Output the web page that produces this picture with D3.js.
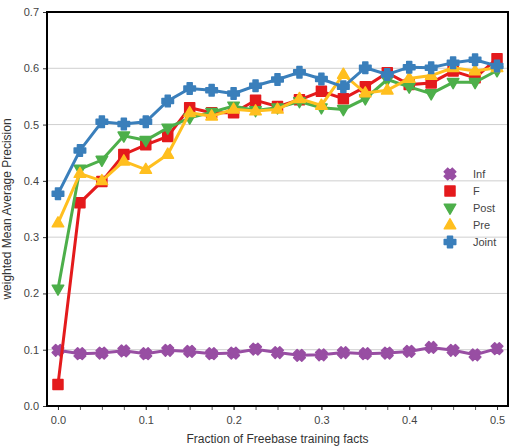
<!DOCTYPE html>
<html>
<head>
<meta charset="utf-8">
<script src="https://cdn.jsdelivr.net/npm/d3@7"></script>
<style>
  body { margin: 0; background: #fff; }
  text { font-family: "Liberation Sans", Arial, sans-serif; }
</style>
</head>
<body>
<div id="chart"></div>
<script>
// fractions of Freebase facts used for training
var fractions = [0, 0.025, 0.05, 0.075, 0.1, 0.125, 0.15, 0.175, 0.2, 0.225, 0.25,
                 0.275, 0.3, 0.325, 0.35, 0.375, 0.4, 0.425, 0.45, 0.475, 0.5];

var infValues = [0.099, 0.093, 0.094, 0.098, 0.093, 0.099, 0.097, 0.093, 0.094, 0.101, 0.095,
                 0.090, 0.091, 0.095, 0.093, 0.094, 0.097, 0.104, 0.099, 0.091, 0.102];
var fValues = [0.038, 0.361, 0.399, 0.447, 0.464, 0.479, 0.530, 0.521, 0.521, 0.543, 0.532,
               0.544, 0.559, 0.546, 0.567, 0.592, 0.571, 0.574, 0.595, 0.583, 0.617];
var postValues = [0.208, 0.421, 0.437, 0.480, 0.472, 0.494, 0.512, 0.522, 0.533, 0.525, 0.530,
                  0.541, 0.530, 0.527, 0.546, 0.580, 0.567, 0.555, 0.575, 0.575, 0.596];
var preValues = [0.325, 0.413, 0.400, 0.435, 0.420, 0.447, 0.521, 0.515, 0.527, 0.524, 0.527,
                 0.546, 0.534, 0.589, 0.556, 0.561, 0.582, 0.587, 0.601, 0.595, 0.601];
var jointValues = [0.377, 0.454, 0.505, 0.501, 0.505, 0.542, 0.564, 0.561, 0.555, 0.569, 0.580,
                   0.593, 0.581, 0.567, 0.601, 0.589, 0.602, 0.601, 0.610, 0.615, 0.604];

var seriesNames = ["Inf", "F", "Post", "Pre", "Joint"];
var seriesValues = [infValues, fValues, postValues, preValues, jointValues];
var seriesColors = ["#984ea3", "#e41a1c", "#4daf4a", "#ffbf1f", "#3a7fbb"];
var seriesMarkers = ["x", "square", "tridown", "triup", "plus"];

var xTicks = [0, 0.1, 0.2, 0.3, 0.4, 0.5];
var yTicks = [0, 0.1, 0.2, 0.3, 0.4, 0.5, 0.6, 0.7];

var margin = {top: 12, right: 5, bottom: 42, left: 47},
    width = 513 - margin.left - margin.right,
    height = 448 - margin.top - margin.bottom;

var svg = d3.select("#chart").append("svg")
    .attr("width", 513)
    .attr("height", 448)
    .append("g")
    .attr("transform", "translate(" + margin.left + "," + margin.top + ")");

var x = d3.scaleLinear().domain([-0.0125, 0.5125]).range([0, width]);
var y = d3.scaleLinear().domain([0, 0.7]).range([height, 0]);

// horizontal grid lines
svg.append("g")
    .selectAll("line")
    .data(yTicks.slice(1, -1))
    .enter().append("line")
    .attr("x1", 0).attr("x2", width)
    .attr("y1", function(d) { return y(d); })
    .attr("y2", function(d) { return y(d); })
    .style("stroke", "#cfcfcf")
    .style("stroke-width", 1);

// y axis
var yAxis = svg.append("g")
    .call(d3.axisLeft(y).tickValues(yTicks).tickFormat(d3.format(".1f")).tickSize(4).tickPadding(4));
yAxis.select(".domain").remove();
yAxis.selectAll("line").style("stroke", "#333");
yAxis.selectAll("text").style("font-size", "11px").style("fill", "#444")
    .style("font-family", "'Liberation Sans', Arial, sans-serif");

// x axis, minor ticks every 0.025
var xMinor = svg.append("g")
    .attr("transform", "translate(0," + height + ")")
    .call(d3.axisBottom(x).tickValues(fractions).tickFormat("").tickSize(4));
xMinor.select(".domain").remove();
xMinor.selectAll("line").style("stroke", "#555");

var xAxis = svg.append("g")
    .attr("transform", "translate(0," + height + ")")
    .call(d3.axisBottom(x).tickValues(xTicks).tickFormat(d3.format(".1f")).tickSize(4).tickPadding(6));
xAxis.select(".domain").remove();
xAxis.selectAll("line").style("stroke", "#333");
xAxis.selectAll("text").style("font-size", "11px").style("fill", "#444")
    .style("font-family", "'Liberation Sans', Arial, sans-serif");

// axis titles
svg.append("text")
    .attr("x", width / 2)
    .attr("y", height + 37)
    .style("text-anchor", "middle")
    .style("font-size", "12px")
    .style("fill", "#333")
    .text("Fraction of Freebase training facts");

svg.append("text")
    .attr("transform", "rotate(-90)")
    .attr("x", -(height / 2))
    .attr("y", -36)
    .style("text-anchor", "middle")
    .style("font-size", "12px")
    .style("fill", "#333")
    .text("weighted Mean Average Precision");

// marker shapes
function markerPath(kind, s) {
    if (kind === "square") {
        return "M" + -s + "," + -s + "H" + s + "V" + s + "H" + -s + "Z";
    }
    if (kind === "tridown") {
        var h = s * 1.15;
        return "M" + -h + "," + (-s * 0.75) + "L" + h + "," + (-s * 0.75) + "L0," + (s * 1.25) + "Z";
    }
    if (kind === "triup") {
        var h2 = s * 1.15;
        return "M" + -h2 + "," + (s * 0.75) + "L" + h2 + "," + (s * 0.75) + "L0," + (-s * 1.25) + "Z";
    }
    // plus / x: filled cross
    var a = s * 1.15, w = s * 0.5;
    return "M" + -w + "," + -a + "H" + w + "V" + -w + "H" + a + "V" + w + "H" + w +
        "V" + a + "H" + -w + "V" + w + "H" + -a + "V" + -w + "H" + -w + "Z";
}

var mSize = 5;

var line = d3.line()
    .x(function(d) { return x(d[0]); })
    .y(function(d) { return y(d[1]); });

seriesNames.forEach(function(name, i) {
    var pts = fractions.map(function(f, j) { return [f, seriesValues[i][j]]; });
    var g = svg.append("g");
    g.append("path")
        .datum(pts)
        .attr("d", line)
        .style("fill", "none")
        .style("stroke", seriesColors[i])
        .style("stroke-width", 3);
    g.selectAll(".mk")
        .data(pts)
        .enter().append("path")
        .attr("class", "mk")
        .attr("transform", function(d) {
            return "translate(" + x(d[0]) + "," + y(d[1]) + ")" + (seriesMarkers[i] === "x" ? " rotate(45)" : "");
        })
        .attr("d", markerPath(seriesMarkers[i], mSize))
        .style("fill", seriesColors[i])
        .style("stroke", seriesColors[i])
        .style("stroke-width", 1.5)
        .style("stroke-linejoin", "round");
});

// legend
var legend = svg.append("g").attr("transform", "translate(" + (width - 58) + ",162)");
seriesNames.forEach(function(name, i) {
    var row = legend.append("g").attr("transform", "translate(0," + (i * 17) + ")");
    row.append("path")
        .attr("transform", seriesMarkers[i] === "x" ? "rotate(45)" : null)
        .attr("d", markerPath(seriesMarkers[i], mSize))
        .style("fill", seriesColors[i])
        .style("stroke", seriesColors[i])
        .style("stroke-width", 1.5)
        .style("stroke-linejoin", "round");
    row.append("text")
        .attr("x", 23)
        .attr("y", 4)
        .style("font-size", "11px")
        .style("fill", "#444")
        .text(name);
});

// frame
svg.append("rect")
    .attr("width", width)
    .attr("height", height)
    .style("fill", "none")
    .style("stroke", "#000")
    .style("stroke-width", 2);
</script>
</body>
</html>
